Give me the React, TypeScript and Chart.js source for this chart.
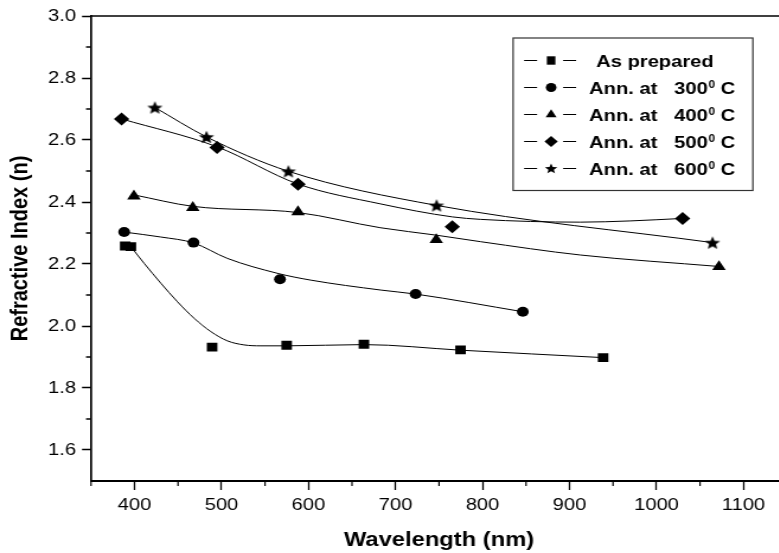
import React, { useEffect, useRef } from 'react';
import { Chart, registerables } from 'chart.js';

Chart.register(...registerables);

// ---------------- data ----------------
const seriesLabels = [
  'As prepared',
  'Ann. at   300⁰ C',
  'Ann. at   400⁰ C',
  'Ann. at   500⁰ C',
  'Ann. at   600⁰ C',
];

const asPreparedX = [389.3, 395.8, 489.2, 574.9, 663.7, 774.7, 938.6];
const asPreparedY = [2.258, 2.256, 1.932, 1.938, 1.941, 1.923, 1.898];
const asPreparedCurveX = [395.8, 411.1, 430.3, 449.4, 468.5, 487.7, 506.8, 525.9, 545.1, 574.9, 663.7, 774.7, 938.6];
const asPreparedCurveY = [2.256, 2.202, 2.138, 2.078, 2.025, 1.982, 1.952, 1.939, 1.936, 1.936, 1.94, 1.922, 1.898];

const ann300X = [388.1, 467.8, 567.2, 723.1, 846.3];
const ann300Y = [2.303, 2.269, 2.151, 2.103, 2.046];
const ann300CurveX = [388.1, 430.3, 467.8, 506.8, 564.2, 602.5, 682.9, 723.1, 846.3];
const ann300CurveY = [2.303, 2.287, 2.268, 2.218, 2.17, 2.148, 2.116, 2.103, 2.046];

const ann400X = [399.3, 467.0, 587.9, 746.8, 1071.8];
const ann400Y = [2.419, 2.382, 2.368, 2.278, 2.191];
const ann400CurveX = [399.3, 467.0, 587.9, 682.6, 746.8, 797.7, 912.5, 1071.8];
const ann400CurveY = [2.423, 2.386, 2.366, 2.317, 2.293, 2.272, 2.229, 2.192];

const ann500X = [385.1, 494.9, 587.9, 765.2, 1030.0];
const ann500Y = [2.668, 2.576, 2.457, 2.32, 2.347];
const ann500CurveX = [385.1, 494.9, 587.9, 682.6, 765.2, 797.6, 912.5, 970.0, 1030.0];
const ann500CurveY = [2.668, 2.578, 2.458, 2.394, 2.352, 2.344, 2.335, 2.339, 2.347];

const ann600X = [423.4, 482.7, 576.9, 747.2, 1064.4];
const ann600Y = [2.705, 2.61, 2.499, 2.389, 2.269];
const ann600CurveX = [423.4, 482.7, 576.9, 747.2, 1064.4];
const ann600CurveY = [2.705, 2.61, 2.499, 2.389, 2.269];

const xTicks = [400, 500, 600, 700, 800, 900, 1000, 1100];
const xMinorTicks = [350, 450, 550, 650, 750, 850, 950, 1050, 1150];
const yTicks = [1.6, 1.8, 2.0, 2.2, 2.4, 2.6, 2.8, 3.0];
const yMinorTicks = [1.7, 1.9, 2.1, 2.3, 2.5, 2.7, 2.9];

const xTitle = 'Wavelength (nm)';
const yTitle = 'Refractive Index (n)';

// ---------------- layout ----------------
const STRETCH = 1.185; // reference is horizontally stretched
const VIEW_W = 779;
const VIEW_H = 553;
const PLOT_RIGHT_CSS = 786.8;
const CANVAS_W = Math.round(PLOT_RIGHT_CSS / STRETCH);
const FONT = '"Liberation Sans", Arial, sans-serif';

function starPath(ctx: CanvasRenderingContext2D, cx: number, cy: number, R: number, r: number) {
  ctx.beginPath();
  for (let i = 0; i < 10; i++) {
    const ang = -Math.PI / 2 + (i * Math.PI) / 5;
    const rad = i % 2 === 0 ? R : r;
    const px = cx + rad * Math.cos(ang);
    const py = cy + rad * Math.sin(ang);
    if (i === 0) ctx.moveTo(px, py);
    else ctx.lineTo(px, py);
  }
  ctx.closePath();
}

function makeStar(): HTMLCanvasElement {
  const c = document.createElement('canvas');
  c.width = 18;
  c.height = 18;
  const g = c.getContext('2d')!;
  g.fillStyle = '#000';
  starPath(g, 9, 9 + 0.095 * 6.8, 6.8, 3.0);
  g.fill();
  return c;
}

function drawLegendMarker(ctx: CanvasRenderingContext2D, kind: string, x: number, y: number) {
  ctx.fillStyle = '#000';
  ctx.beginPath();
  if (kind === 'rect') {
    ctx.rect(x - 3.6, y - 4.2, 7.2, 8.4);
  } else if (kind === 'circle') {
    ctx.arc(x, y, 4.5, 0, Math.PI * 2);
  } else if (kind === 'triangle') {
    const r = 5.3;
    ctx.moveTo(x, y - r);
    ctx.lineTo(x + 0.866 * r, y + 0.5 * r);
    ctx.lineTo(x - 0.866 * r, y + 0.5 * r);
    ctx.closePath();
  } else if (kind === 'rectRot') {
    const r = 5.6;
    ctx.moveTo(x - r, y);
    ctx.lineTo(x, y - r);
    ctx.lineTo(x + r, y);
    ctx.lineTo(x, y + r);
    ctx.closePath();
  } else {
    starPath(ctx, x, y + 0.4, 5.5, 2.4);
  }
  ctx.fill();
}

const legendKinds = ['rect', 'circle', 'triangle', 'rectRot', 'star'];

const frameAndMinorTicks = {
  id: 'frameAndMinorTicks',
  afterDraw(chart: any) {
    const { ctx, chartArea, scales } = chart;
    const xs = scales.x;
    const ys = scales.y;
    ctx.save();
    ctx.strokeStyle = '#000';
    // top frame line
    ctx.lineWidth = 1.3;
    ctx.beginPath();
    ctx.moveTo(chartArea.left, chartArea.top);
    ctx.lineTo(chartArea.right, chartArea.top);
    ctx.stroke();
    // minor ticks on x
    ctx.lineWidth = 1.2;
    ctx.beginPath();
    for (const v of xMinorTicks) {
      const px = xs.getPixelForValue(v);
      ctx.moveTo(px, chartArea.bottom);
      ctx.lineTo(px, chartArea.bottom + 5);
    }
    ctx.stroke();
    // minor ticks on y
    ctx.lineWidth = 1.4;
    ctx.beginPath();
    for (const v of yMinorTicks) {
      const py = ys.getPixelForValue(v);
      ctx.moveTo(chartArea.left, py);
      ctx.lineTo(chartArea.left - 5 / STRETCH, py);
    }
    ctx.stroke();
    ctx.restore();
  },
};

const boxLegend = {
  id: 'boxLegend',
  afterDraw(chart: any) {
    const ctx: CanvasRenderingContext2D = chart.ctx;
    const s = STRETCH;
    const bx = 513 / s;
    const bw = (752.7 - 513) / s;
    const by = 38;
    const bh = 152.5;
    ctx.save();
    ctx.fillStyle = '#fff';
    ctx.fillRect(bx, by, bw, bh);
    ctx.strokeStyle = '#333';
    ctx.lineWidth = 1.2;
    ctx.strokeRect(bx, by, bw, bh);

    seriesLabels.forEach((label, i) => {
      const y = 60.5 + 27 * i;
      ctx.strokeStyle = '#000';
      ctx.lineWidth = 1;
      ctx.beginPath();
      ctx.moveTo(524 / s, y);
      ctx.lineTo(537 / s, y);
      ctx.moveTo(563 / s, y);
      ctx.lineTo(576 / s, y);
      ctx.stroke();
      drawLegendMarker(ctx, legendKinds[i], 551 / s, y);

      ctx.fillStyle = '#000';
      ctx.textBaseline = 'alphabetic';
      ctx.textAlign = 'left';
      const mainFont = `bold 17px ${FONT}`;
      const supFont = `bold 10px ${FONT}`;
      const baseY = y + 6.1;
      let x = (i === 0 ? 596 : 589) / s;
      const k = label.indexOf('⁰');
      ctx.font = mainFont;
      if (k < 0) {
        ctx.fillText(label, x, baseY);
      } else {
        const before = label.slice(0, k);
        const after = label.slice(k + 1);
        ctx.fillText(before, x, baseY);
        x += ctx.measureText(before).width + 0.5;
        ctx.font = supFont;
        ctx.fillText('0', x, baseY - 5.6);
        x += ctx.measureText('0').width;
        ctx.font = mainFont;
        ctx.fillText(after, x, baseY);
      }
    });
    ctx.restore();
  },
};

export default function App() {
  const ref = useRef<HTMLCanvasElement>(null);

  useEffect(() => {
    const canvas = ref.current;
    if (!canvas) return;
    const star = makeStar();

    const series = [
      { label: seriesLabels[0], mx: asPreparedX, my: asPreparedY, cx: asPreparedCurveX, cy: asPreparedCurveY, style: 'rect', r: 6.3 },
      { label: seriesLabels[1], mx: ann300X, my: ann300Y, cx: ann300CurveX, cy: ann300CurveY, style: 'circle', r: 5 },
      { label: seriesLabels[2], mx: ann400X, my: ann400Y, cx: ann400CurveX, cy: ann400CurveY, style: 'triangle', r: 6.6 },
      { label: seriesLabels[3], mx: ann500X, my: ann500Y, cx: ann500CurveX, cy: ann500CurveY, style: 'rectRot', r: 6.5 },
      { label: seriesLabels[4], mx: ann600X, my: ann600Y, cx: ann600CurveX, cy: ann600CurveY, style: star, r: 6.8 },
    ];

    const datasets: any[] = [];
    series.forEach((s) => {
      datasets.push({
        label: s.label + ' (curve)',
        data: s.cx.map((x, i) => ({ x, y: s.cy[i] })),
        borderColor: '#000',
        borderWidth: 1,
        pointRadius: 0,
        pointHoverRadius: 0,
        cubicInterpolationMode: 'monotone',
        fill: false,
      });
      datasets.push({
        label: s.label,
        data: s.mx.map((x, i) => ({ x, y: s.my[i] })),
        showLine: false,
        pointStyle: s.style,
        pointRadius: s.r,
        pointHoverRadius: s.r,
        pointBackgroundColor: '#000',
        pointBorderColor: '#000',
        pointBorderWidth: 0,
      });
    });

    const chart = new Chart(canvas, {
      type: 'line',
      data: { datasets },
      options: {
        animation: false,
        responsive: false,
        maintainAspectRatio: false,
        devicePixelRatio: 1,
        events: [],
        layout: { autoPadding: false, padding: { top: 16, left: 0, right: 0, bottom: 0 } },
        plugins: {
          legend: { display: false },
          tooltip: { enabled: false },
        },
        scales: {
          x: {
            type: 'linear',
            min: 350,
            max: 1150,
            afterBuildTicks: (scale: any) => {
              scale.ticks = xTicks.map((v) => ({ value: v }));
            },
            afterFit: (scale: any) => {
              scale.height = VIEW_H - 481;
              scale.paddingLeft = 0;
              scale.paddingRight = 0;
              scale.paddingTop = 0;
              scale.paddingBottom = 0;
            },
            ticks: {
              autoSkip: false,
              maxRotation: 0,
              padding: 5,
              color: '#000',
              font: { family: FONT, size: 17 },
              callback: (v: any) => String(v),
            },
            grid: {
              display: true,
              drawOnChartArea: false,
              drawTicks: true,
              tickLength: 9,
              tickWidth: 1.3,
              tickColor: '#000',
            },
            border: { display: true, color: '#000', width: 2 },
            title: {
              display: true,
              text: xTitle,
              color: '#000',
              font: { family: FONT, size: 20, weight: 'bold' },
              padding: { top: 0, bottom: 1 },
            },
          },
          y: {
            type: 'linear',
            min: 1.5,
            max: 3.0,
            afterBuildTicks: (scale: any) => {
              scale.ticks = yTicks.map((v) => ({ value: v }));
            },
            afterFit: (scale: any) => {
              scale.width = 91 / STRETCH;
              scale.paddingTop = 0;
              scale.paddingBottom = 0;
              scale.paddingLeft = 0;
              scale.paddingRight = 0;
            },
            ticks: {
              autoSkip: false,
              padding: 5,
              color: '#000',
              font: { family: FONT, size: 17 },
              callback: (v: any) => Number(v).toFixed(1),
            },
            grid: {
              display: true,
              drawOnChartArea: false,
              drawTicks: true,
              tickLength: 9 / STRETCH,
              tickWidth: 1.5,
              tickColor: '#000',
            },
            border: { display: true, color: '#000', width: 1.7 },
            title: {
              display: true,
              text: yTitle,
              color: '#000',
              font: { family: FONT, size: 20, weight: 'bold' },
              padding: { top: 5.3, bottom: 0 },
            },
          },
        },
      } as any,
      plugins: [frameAndMinorTicks, boxLegend],
    });

    return () => chart.destroy();
  }, []);

  return (
    <div
      style={{
        position: 'fixed',
        left: 0,
        top: 0,
        width: VIEW_W,
        height: VIEW_H,
        overflow: 'hidden',
        background: '#fff',
      }}
    >
      <canvas
        ref={ref}
        width={CANVAS_W}
        height={VIEW_H}
        style={{ display: 'block', width: `${CANVAS_W * STRETCH}px`, height: `${VIEW_H}px` }}
      />
    </div>
  );
}
